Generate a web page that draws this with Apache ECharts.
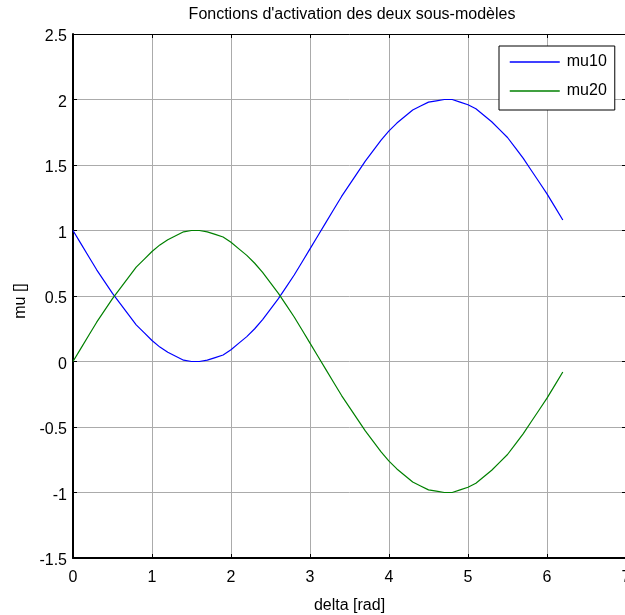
<!DOCTYPE html>
<html>
<head>
<meta charset="utf-8">
<script src="https://cdn.jsdelivr.net/npm/echarts@6/dist/echarts.min.js"></script>
<style>
  html, body { margin: 0; padding: 0; background: #fff; }
  #chart { width: 625px; height: 615px; }
</style>
</head>
<body>
<div id="chart"></div>
<script>
// Rotor angle samples (rad) and the two sub-model activation functions
const delta = [
  0.0, 0.1, 0.2, 0.3, 0.4, 0.5, 0.6, 0.7, 0.8, 0.9,
  1.0, 1.1, 1.2, 1.3, 1.4, 1.5, 1.6, 1.7, 1.8, 1.9,
  2.0, 2.1, 2.2, 2.3, 2.4, 2.5, 2.6, 2.7, 2.8, 2.9,
  3.0, 3.1, 3.2, 3.3, 3.4, 3.5, 3.6, 3.7, 3.8, 3.9,
  4.0, 4.1, 4.2, 4.3, 4.4, 4.5, 4.6, 4.7, 4.8, 4.9,
  5.0, 5.1, 5.2, 5.3, 5.4, 5.5, 5.6, 5.7, 5.8, 5.9,
  6.0, 6.1, 6.2
];
const mu10 = [
  1.00, 0.90, 0.80, 0.70, 0.61, 0.52, 0.44, 0.36, 0.28, 0.22,
  0.16, 0.11, 0.07, 0.04, 0.01, 0.00, 0.00, 0.01, 0.03, 0.05,
  0.09, 0.14, 0.19, 0.25, 0.32, 0.40, 0.48, 0.57, 0.66, 0.76,
  0.86, 0.96, 1.06, 1.16, 1.26, 1.35, 1.44, 1.53, 1.61, 1.69,
  1.76, 1.82, 1.87, 1.92, 1.95, 1.98, 1.99, 2.00, 2.00, 1.98,
  1.96, 1.93, 1.88, 1.83, 1.77, 1.71, 1.63, 1.55, 1.46, 1.37,
  1.28, 1.18, 1.08
];
const mu20 = [
  0.00, 0.10, 0.20, 0.30, 0.39, 0.48, 0.56, 0.64, 0.72, 0.78,
  0.84, 0.89, 0.93, 0.96, 0.99, 1.00, 1.00, 0.99, 0.97, 0.95,
  0.91, 0.86, 0.81, 0.75, 0.68, 0.60, 0.52, 0.43, 0.34, 0.24,
  0.14, 0.04, -0.06, -0.16, -0.26, -0.35, -0.44, -0.53, -0.61, -0.69,
  -0.76, -0.82, -0.87, -0.92, -0.95, -0.98, -0.99, -1.00, -1.00, -0.98,
  -0.96, -0.93, -0.88, -0.83, -0.77, -0.71, -0.63, -0.55, -0.46, -0.37,
  -0.28, -0.18, -0.08
];
const seriesNames = ['mu10', 'mu20'];

const FONT = '"Liberation Sans", Arial, sans-serif';
const FS = 16;
const pairs = ys => delta.map((x, i) => [x, ys[i]]);

const chart = echarts.init(document.getElementById('chart'), null, { renderer: 'canvas' });

const gridLine = { show: true, lineStyle: { color: '#ababab', width: 1, type: 'solid' } };
const labelStyle = { color: '#000', fontFamily: FONT, fontSize: FS };

chart.setOption({
  animation: false,
  backgroundColor: '#fff',
  title: {
    text: "Fonctions d'activation des deux sous-modèles",
    left: 347, top: 2, textAlign: 'center',
    textStyle: { color: '#000', fontFamily: FONT, fontSize: FS, fontWeight: 'normal' }
  },
  grid: {
    left: 73, top: 34, width: 553, height: 524,
    outerBoundsMode: 'none', containLabel: false
  },
  legend: {
    data: seriesNames,
    orient: 'vertical',
    left: 499, top: 46,
    padding: [8, 8, 11, 10],
    itemWidth: 50, itemHeight: 16, itemGap: 13,
    backgroundColor: '#fff',
    borderColor: '#000', borderWidth: 1, borderRadius: 0,
    itemStyle: { opacity: 0 },
    lineStyle: { width: 1.5, opacity: 1 },
    textStyle: { color: '#000', fontFamily: FONT, fontSize: FS, padding: [0, 0, 0, 2] }
  },
  xAxis: [
    {
      type: 'value', min: 0, max: 7, interval: 1, position: 'bottom',
      name: 'delta [rad]', nameLocation: 'middle', nameGap: 40,
      nameTextStyle: labelStyle,
      axisLine: { show: true, onZero: false, lineStyle: { color: '#000', width: 2 } },
      axisTick: { show: true, inside: true, length: 4, lineStyle: { color: '#000' } },
      axisLabel: Object.assign({ margin: 12 }, labelStyle),
      splitLine: gridLine
    },
    {
      type: 'value', min: 0, max: 7, interval: 1, position: 'top',
      axisLine: { show: true, onZero: false, lineStyle: { color: '#000', width: 1 } },
      axisTick: { show: true, inside: true, length: 4, lineStyle: { color: '#000' } },
      axisLabel: { show: false },
      splitLine: { show: false }
    }
  ],
  yAxis: [
    {
      type: 'value', min: -1.5, max: 2.5, interval: 0.5, position: 'left',
      name: 'mu []', nameLocation: 'middle', nameGap: 41, nameRotate: 90,
      nameTextStyle: Object.assign({ padding: [0, 10, 0, 0] }, labelStyle),
      axisLine: { show: true, onZero: false, lineStyle: { color: '#000', width: 2 } },
      axisTick: { show: true, inside: true, length: 4, lineStyle: { color: '#000' } },
      axisLabel: Object.assign({
        margin: 6,
        formatter: v => '{t|' + v + '}',
        rich: { t: { fontFamily: FONT, fontSize: FS, color: '#000', padding: [6, 0, 0, 0] } }
      }, labelStyle),
      splitLine: gridLine
    },
    {
      type: 'value', min: -1.5, max: 2.5, interval: 0.5, position: 'right',
      axisLine: { show: true, onZero: false, lineStyle: { color: '#000', width: 1 } },
      axisTick: { show: true, inside: true, length: 4, lineStyle: { color: '#000' } },
      axisLabel: { show: false },
      splitLine: { show: false }
    }
  ],
  series: [
    {
      name: seriesNames[0], type: 'line', data: pairs(mu10),
      symbol: 'none', smooth: false,
      lineStyle: { color: '#0000ff', width: 1.2 }, itemStyle: { color: '#0000ff' }
    },
    {
      name: seriesNames[1], type: 'line', data: pairs(mu20),
      symbol: 'none', smooth: false,
      lineStyle: { color: '#008000', width: 1.2 }, itemStyle: { color: '#008000' }
    }
  ]
});
</script>
</body>
</html>
